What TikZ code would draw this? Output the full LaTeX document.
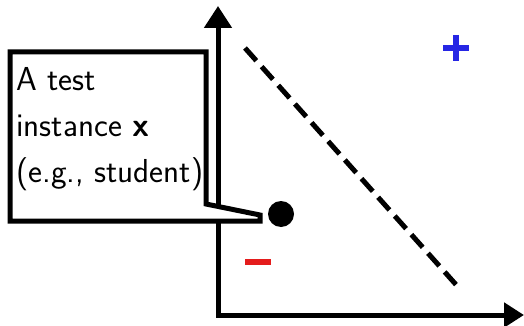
\documentclass[tikz,border=0pt]{standalone}
\usetikzlibrary{arrows.meta}
\definecolor{posblue}{RGB}{38,38,228}
\definecolor{negred}{RGB}{228,28,28}
\begin{document}
\begin{tikzpicture}[x=0.5pt,y=-0.5pt,line width=2.5pt,
  axis/.style={-{Triangle[width=13.5pt,length=11pt]}},
  sign/.style={line width=2.6pt}]
\useasboundingbox (0,0) rectangle (524,326);
\coordinate (orig) at (218,315);
\draw[{Triangle[width=13.5pt,length=11pt]}-{Triangle[width=12pt,length=10pt]}] (218,6) -- (orig) -- (524,315);
\draw[dash pattern=on 8.5pt off 4pt] (245,48) -- (459,288);
\coordinate (pos) at (456,48);
\draw[sign,posblue] (pos) ++(-13,0) -- ++(26,0) (pos) ++(0,-13) -- ++(0,26);
\coordinate (neg) at (258,262);
\draw[sign,negred] (neg) ++(-13,0) -- ++(26,0);
\node[circle,fill=black,inner sep=0pt,minimum size=13pt] (inst) at (281,214) {};
\coordinate (tip) at (260,215);
\draw[fill=white] (10,52) -- (206,52) -- (206,204) -- (tip) -- (260,221) -- (10,221) -- cycle;
\node[anchor=base west,align=left,inner sep=0pt,font=\sffamily\fontsize{16.6}{23}\selectfont] (info) at (14,182)
  {A test\\instance \textbf{x}\\(e.g., student)};
\end{tikzpicture}
\end{document}
